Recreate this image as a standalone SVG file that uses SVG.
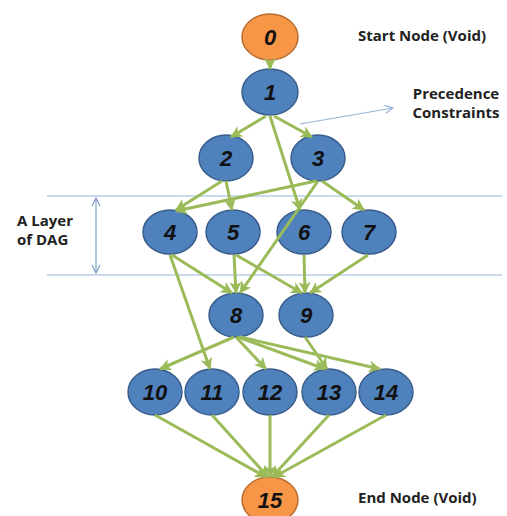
<svg xmlns="http://www.w3.org/2000/svg" width="507" height="516" viewBox="0 0 507 516">
<defs>
<marker id="ah" markerUnits="userSpaceOnUse" markerWidth="14" markerHeight="14" viewBox="0 0 14 14" refX="12" refY="7" orient="auto">
<path d="M1,1 L13,7 L1,13 L4,7 Z" fill="#9BBB59"/>
</marker>
<marker id="bh" markerUnits="userSpaceOnUse" markerWidth="10" markerHeight="10" viewBox="0 0 10 10" refX="9" refY="5" orient="auto">
<path d="M1,1 L9,5 L1,9" fill="none" stroke="#95B3D7" stroke-width="1.2"/>
</marker>
<marker id="vh" markerUnits="userSpaceOnUse" markerWidth="10" markerHeight="10" viewBox="0 0 10 10" refX="9" refY="5" orient="auto-start-reverse">
<path d="M1,1 L9,5 L1,9" fill="none" stroke="#7F9CC9" stroke-width="1.2"/>
</marker>
</defs>
<style>
.e{stroke:#9BBB59;stroke-width:3;fill:none;marker-end:url(#ah)}
.b ellipse{fill:#4F81BD;stroke:#385D8A;stroke-width:1.5}
.o ellipse{fill:#F79646;stroke:#B66D31;stroke-width:1.5}
.n text{font-family:"Liberation Sans",Arial,sans-serif;font-weight:bold;font-style:italic;font-size:22px;fill:#111;text-anchor:middle}
.lbl{font-family:"Open Sans","Liberation Sans",sans-serif;font-weight:bold;font-size:15px;fill:#222}
.hl{stroke:#95B3D7;stroke-width:1.2}
</style>
<rect width="507" height="516" fill="#fff"/>
<g id="layer-lines">
<line class="hl" x1="47" y1="196" x2="502" y2="196"/>
<line class="hl" x1="47" y1="275" x2="502" y2="275"/>
<line x1="96" y1="198" x2="96" y2="273" stroke="#7F9CC9" stroke-width="1.2" marker-start="url(#vh)" marker-end="url(#vh)"/>
</g>
<g id="n0" class="n o"><ellipse cx="270" cy="37" rx="28" ry="23"/><text x="270" y="45">0</text></g>
<g id="n1" class="n b"><ellipse cx="270" cy="92" rx="28" ry="23"/><text x="270" y="100">1</text></g>
<g id="n2" class="n b"><ellipse cx="226" cy="158" rx="27" ry="23"/><text x="226" y="166">2</text></g>
<g id="n3" class="n b"><ellipse cx="318" cy="158" rx="27" ry="23"/><text x="318" y="166">3</text></g>
<g id="n4" class="n b"><ellipse cx="170" cy="232" rx="27" ry="22"/><text x="170" y="240">4</text></g>
<g id="n5" class="n b"><ellipse cx="233" cy="232" rx="27" ry="22"/><text x="233" y="240">5</text></g>
<g id="n6" class="n b"><ellipse cx="304" cy="232" rx="27" ry="22"/><text x="304" y="240">6</text></g>
<g id="n7" class="n b"><ellipse cx="369" cy="232" rx="27" ry="22"/><text x="369" y="240">7</text></g>
<g id="n8" class="n b"><ellipse cx="236" cy="315" rx="27" ry="22"/><text x="236" y="323">8</text></g>
<g id="n9" class="n b"><ellipse cx="306" cy="315" rx="27" ry="22"/><text x="306" y="323">9</text></g>
<g id="n10" class="n b"><ellipse cx="155" cy="392" rx="27" ry="23"/><text x="155" y="400">10</text></g>
<g id="n11" class="n b"><ellipse cx="212" cy="392" rx="27" ry="23"/><text x="212" y="400">11</text></g>
<g id="n12" class="n b"><ellipse cx="270" cy="392" rx="27" ry="23"/><text x="270" y="400">12</text></g>
<g id="n13" class="n b"><ellipse cx="329" cy="392" rx="27" ry="23"/><text x="329" y="400">13</text></g>
<g id="n14" class="n b"><ellipse cx="386" cy="392" rx="27" ry="23"/><text x="386" y="400">14</text></g>
<g id="n15" class="n o"><ellipse cx="270" cy="500" rx="28" ry="23"/><text x="270" y="508">15</text></g>
<g id="connectors">
<line class="e" x1="270" y1="60" x2="270" y2="69"/>
<line class="e" x1="266" y1="116" x2="231" y2="137"/>
<line class="e" x1="274" y1="116" x2="312" y2="137"/>
<line class="e" x1="270" y1="116" x2="300" y2="210"/>
<line class="e" x1="222" y1="181" x2="176" y2="210"/>
<line class="e" x1="226" y1="181" x2="232" y2="210"/>
<line class="e" x1="316" y1="181" x2="176" y2="211"/>
<line class="e" x1="322" y1="181" x2="364" y2="210"/>
<line class="e" x1="318" y1="181" x2="240" y2="293"/>
<line class="e" x1="172" y1="255" x2="232" y2="293"/>
<line class="e" x1="170" y1="255" x2="210" y2="369"/>
<line class="e" x1="234" y1="255" x2="236" y2="293"/>
<line class="e" x1="236" y1="255" x2="302" y2="293"/>
<line class="e" x1="304" y1="255" x2="305" y2="293"/>
<line class="e" x1="368" y1="255" x2="310" y2="293"/>
<line class="e" x1="234" y1="337" x2="160" y2="369"/>
<line class="e" x1="236" y1="337" x2="266" y2="369"/>
<line class="e" x1="238" y1="337" x2="325" y2="369"/>
<line class="e" x1="240" y1="337" x2="380" y2="369"/>
<line class="e" x1="305" y1="337" x2="327" y2="369"/>
<line class="e" x1="155" y1="415" x2="266" y2="477"/>
<line class="e" x1="212" y1="415" x2="268" y2="477"/>
<line class="e" x1="270" y1="415" x2="270" y2="477"/>
<line class="e" x1="329" y1="415" x2="272" y2="477"/>
<line class="e" x1="386" y1="415" x2="274" y2="477"/>
<line x1="300" y1="124" x2="393" y2="108" stroke="#95B3D7" stroke-width="1.2" marker-end="url(#bh)"/>
</g>
<g id="labels">
<text class="lbl" x="358" y="41">Start Node (Void)</text>
<text class="lbl" x="456" y="99" text-anchor="middle">Precedence</text>
<text class="lbl" x="456" y="118" text-anchor="middle">Constraints</text>
<text class="lbl" x="17" y="226">A Layer</text>
<text class="lbl" x="17" y="245">of DAG</text>
<text class="lbl" x="358" y="503">End Node (Void)</text>
</g>
</svg>
